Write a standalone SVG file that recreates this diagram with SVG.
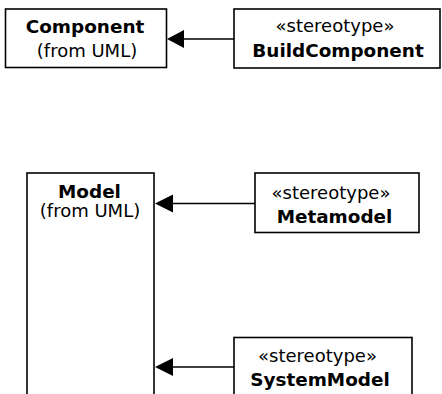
<svg xmlns="http://www.w3.org/2000/svg" width="442" height="394" viewBox="0 0 442 394">
<style>
.box{fill:#fff;stroke:#000;stroke-width:1.6}
.t{font-family:"DejaVu Sans",Verdana,sans-serif;font-size:18px;fill:#000;text-anchor:middle}
.b{font-weight:bold;font-size:18.4px}
.ln{stroke:#000;stroke-width:1.6;fill:none}
.ah{fill:#000;stroke:none}
</style>
<rect width="442" height="394" fill="#fff"/>
<g id="Component">
<rect class="box" x="5.5" y="9" width="161" height="58.5"/>
<text class="t b" x="85" y="33">Component</text>
<text class="t" x="87" y="57">(from UML)</text>
</g>
<g id="BuildComponent">
<rect class="box" x="234" y="9" width="206" height="59"/>
<text class="t" x="335" y="32">«stereotype»</text>
<text class="t b" x="338" y="56.5">BuildComponent</text>
</g>
<g id="Model">
<rect class="box" x="27" y="173" width="127" height="240"/>
<text class="t b" x="89.5" y="198">Model</text>
<text class="t" x="90" y="217">(from UML)</text>
</g>
<g id="Metamodel">
<rect class="box" x="255" y="173" width="164" height="59.5"/>
<text class="t" x="331" y="199">«stereotype»</text>
<text class="t b" x="334.5" y="223">Metamodel</text>
</g>
<g id="SystemModel">
<rect class="box" x="234" y="337.5" width="178" height="80"/>
<text class="t" x="317.5" y="362">«stereotype»</text>
<text class="t b" x="320" y="386">SystemModel</text>
</g>
<g id="connectors">
<line class="ln" x1="234" y1="39" x2="183" y2="39"/>
<polygon class="ah" points="167,39 184,30 184,48"/>
<line class="ln" x1="255" y1="203.5" x2="172" y2="203.5"/>
<polygon class="ah" points="155,203.5 173,194.5 173,212.5"/>
<line class="ln" x1="234" y1="367" x2="172" y2="367"/>
<polygon class="ah" points="155,367 173,358 173,376"/>
</g>
</svg>
